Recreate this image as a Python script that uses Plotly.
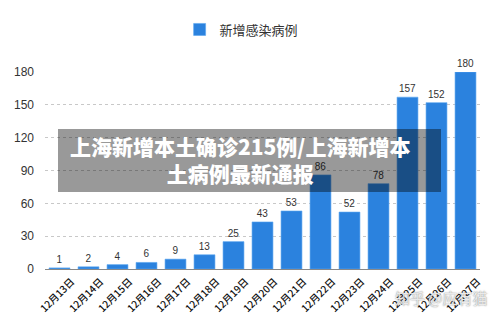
import plotly.graph_objects as go

dates = ["12月13日", "12月14日", "12月15日", "12月16日", "12月17日", "12月18日", "12月19日",
         "12月20日", "12月21日", "12月22日", "12月23日", "12月24日", "12月25日", "12月26日", "12月27日"]
new_cases = [1, 2, 4, 6, 9, 13, 25, 43, 53, 86, 52, 78, 157, 152, 180]
y_ticks = [0, 30, 60, 90, 120, 150, 180]
series_name = "新增感染病例"
overlay_line1 = "上海新增本土确诊215例/上海新增本"
overlay_line2 = "土病例最新通报"
watermark = "知乎 @应有猫"

FONT = "Noto Sans CJK SC"

fig = go.Figure()
fig.add_trace(go.Bar(
    x=dates, y=new_cases, name=series_name,
    marker=dict(color="#2b82de", line=dict(color="#5aa6f0", width=0.6)),
    text=[str(v) for v in new_cases], textposition="outside",
    textfont=dict(size=10, color="#333333", family="Liberation Sans"),
    cliponaxis=False,
))

fig.update_layout(
    width=500, height=322,
    margin=dict(l=45, r=20, t=72, b=53),
    paper_bgcolor="white", plot_bgcolor="white",
    bargap=0.28,
    showlegend=True,
    legend=dict(orientation="h", x=0.452, xanchor="center", y=0.955, yref="container",
                yanchor="top", font=dict(size=13, color="#333333", family=FONT),
                itemwidth=30),
    font=dict(family=FONT),
)

fig.update_xaxes(
    tickangle=-45, tickfont=dict(size=10, color="#111111", family=FONT, weight=500),
    showline=True, linecolor="#888888", linewidth=1,
    ticks="", showgrid=False, automargin=False,
    ticklabelshift=12, ticklabelstandoff=2,
)
fig.update_yaxes(
    range=[0, 180], tickvals=y_ticks, showgrid=True,
    gridcolor="#c8c8c8", griddash="dot", gridwidth=1,
    zeroline=False, showline=False, ticks="",
    tickfont=dict(size=12, color="#333333", family="Liberation Sans"),
    ticklabelstandoff=10, automargin=False,
)

# overlay box
fig.add_shape(type="rect", xref="paper", yref="paper",
              x0=(58 - 45) / 435, x1=(441 - 45) / 435,
              y0=(269 - 192) / 197, y1=(269 - 129) / 197,
              fillcolor="rgba(0,0,0,0.4)", line=dict(width=0), layer="above")
fig.add_annotation(text=overlay_line1 + "<br>" + overlay_line2, xref="paper", yref="paper",
                   x=(240 - 45) / 435, y=(269 - 159) / 197, showarrow=False,
                   font=dict(size=21, color="white", family=FONT, weight=900),
                   xanchor="center", yanchor="middle", align="center")
fig.add_annotation(text=watermark, xref="paper", yref="paper",
                   x=(441 - 45) / 435, y=(269 - 297) / 197, showarrow=False,
                   font=dict(size=15, color="rgba(240,240,240,0.95)", family=FONT,
                             shadow="0px 0px 1.5px #666"),
                   xanchor="center", yanchor="middle")

fig.write_html("out.html")
